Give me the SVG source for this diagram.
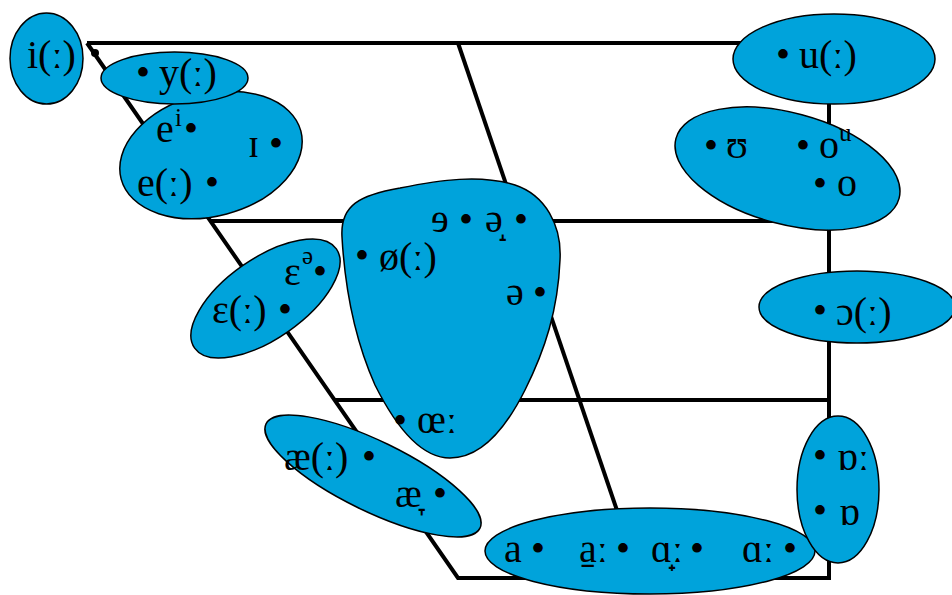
<svg xmlns="http://www.w3.org/2000/svg" width="952" height="595" viewBox="0 0 952 595">
<style>
.bg{fill:#ffffff}
.ln{fill:none;stroke:#000;stroke-width:4;stroke-linejoin:miter}
.bub{fill:#00A3DB;stroke:#000;stroke-width:1.5}
text{font-family:"Liberation Serif","DejaVu Serif",serif;font-size:40px;fill:#000}
.sup{font-size:25px}
.b{text-anchor:middle}
</style>
<rect class="bg" x="0" y="0" width="952" height="595"/>
<g id="connectors">
<polyline class="ln" points="87,43 829,43 829,578 458,578 87,43"/>
<line class="ln" x1="210" y1="221" x2="829" y2="221"/>
<line class="ln" x1="335" y1="400" x2="829" y2="400"/>
<line class="ln" x1="458" y1="43" x2="640" y2="578"/>
<circle cx="95" cy="53" r="4" fill="#000"/>
</g>
<g id="node-e">
<ellipse class="bub" cx="211" cy="155" rx="93" ry="61" transform="rotate(-15 211 155)"/>
<text x="156" y="142">e<tspan class="sup" x="175" y="126">i</tspan></text>
<text class="b" x="191" y="142">•</text>
<text x="248" y="157">ɪ</text>
<text class="b" x="276" y="157">•</text>
<text x="137" y="196">e(ː)</text>
<text class="b" x="212" y="196">•</text>
</g>
<g id="node-y">
<ellipse class="bub" cx="174.5" cy="78" rx="73.5" ry="26"/>
<text class="b" x="143" y="86">•</text>
<text x="159" y="86">y(ː)</text>
</g>
<g id="node-i">
<ellipse class="bub" cx="46.5" cy="58.5" rx="36.5" ry="45.5"/>
<text x="27" y="68">i(ː)</text>
</g>
<g id="node-uu">
<ellipse class="bub" cx="787.5" cy="168.5" rx="115.5" ry="55.6" transform="rotate(15 787.5 168.5)"/>
<text class="b" x="711" y="159">•</text>
<text x="726" y="158">ʊ</text>
<text class="b" x="803" y="159">•</text>
<text x="819" y="158">o<tspan class="sup" x="839" y="141">u</tspan></text>
<text class="b" x="820" y="197">•</text>
<text x="837" y="196">o</text>
</g>
<g id="node-u">
<ellipse class="bub" cx="834" cy="59" rx="101" ry="45"/>
<text class="b" x="783" y="68">•</text>
<text x="799" y="68">u(ː)</text>
</g>
<g id="node-open-o">
<ellipse class="bub" cx="857" cy="307" rx="98" ry="36"/>
<text class="b" x="820" y="324">•</text>
<text x="836" y="325">ɔ(ː)</text>
</g>
<g id="node-epsilon">
<ellipse class="bub" cx="265.5" cy="298.5" rx="86.5" ry="40" transform="rotate(-35 265.5 298.5)"/>
<text x="212" y="323">ɛ(ː)</text>
<text class="b" x="285" y="323">•</text>
<text x="284" y="285">ɛ<tspan class="sup" x="302" y="264">ə</tspan></text>
<text class="b" x="320" y="285">•</text>
</g>
<g id="node-central">
<path class="bub" d="M342,237 C340,205 360,195 400,188 C440,180 480,174 515,185 C545,195 562,225 560,260 C558,310 545,350 525,390 C505,430 480,458 450,458 C420,458 395,425 375,385 C355,340 345,290 342,237 Z"/>
<text class="b" x="362" y="269">•</text>
<text x="379" y="270">ø(ː)</text>
<text x="431" y="232">ɘ</text>
<text class="b" x="466" y="233">•</text>
<text x="485" y="232">ə̝</text>
<text class="b" x="521" y="233">•</text>
<text x="506" y="305">ə</text>
<text class="b" x="540" y="306">•</text>
<text class="b" x="400" y="434">•</text>
<text x="417" y="433">œː</text>
</g>
<g id="node-ae">
<ellipse class="bub" cx="373" cy="476" rx="119" ry="35" transform="rotate(26 373 476)"/>
<text x="284" y="470">æ(ː)</text>
<text class="b" x="369" y="470">•</text>
<text x="395" y="507">æ̞</text>
<text class="b" x="440" y="507">•</text>
</g>
<g id="node-a">
<ellipse class="bub" cx="650" cy="551" rx="165" ry="43"/>
<text x="504" y="562">a</text>
<text class="b" x="538" y="562">•</text>
<text x="579" y="562">a̠ː</text>
<text class="b" x="623" y="562">•</text>
<text x="651" y="562">ɑ̟ː</text>
<text class="b" x="697" y="562">•</text>
<text x="742" y="562">ɑː</text>
<text class="b" x="790" y="562">•</text>
</g>
<g id="node-turned-a">
<ellipse class="bub" cx="838" cy="489.5" rx="41" ry="73.5"/>
<text class="b" x="820" y="469">•</text>
<text x="837" y="470">ɒː</text>
<text class="b" x="820" y="524">•</text>
<text x="839" y="525">ɒ</text>
</g>
</svg>
